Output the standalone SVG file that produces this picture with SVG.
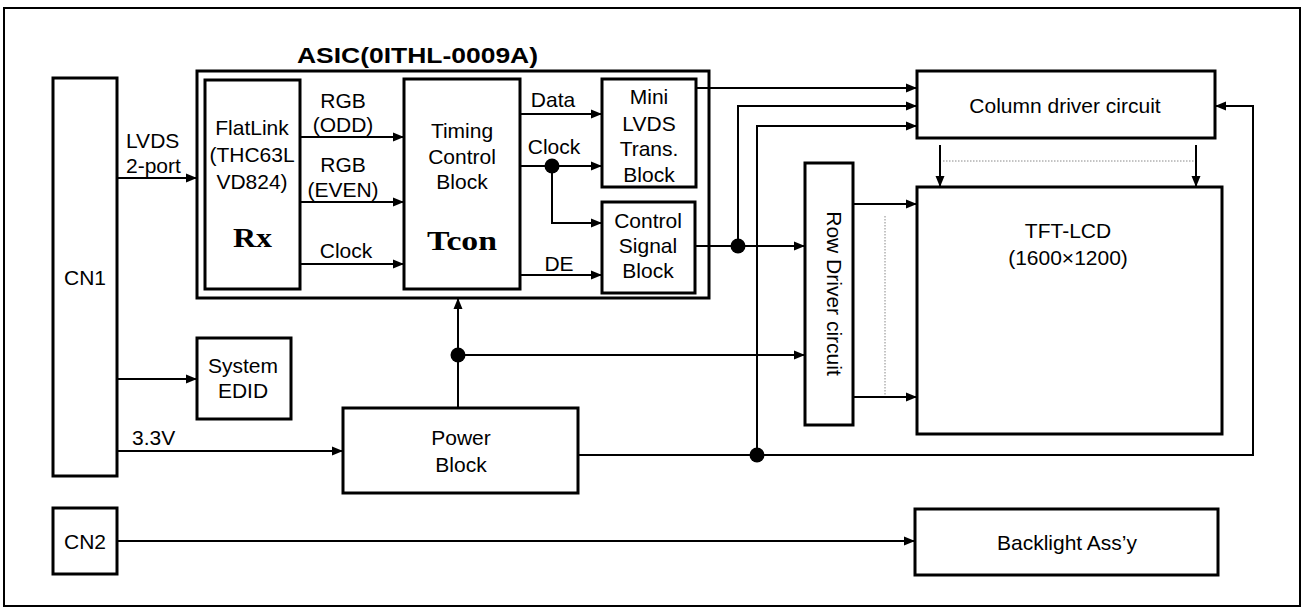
<svg xmlns="http://www.w3.org/2000/svg" width="1304" height="610" viewBox="0 0 1304 610">
<defs>
<marker id="ah" markerUnits="userSpaceOnUse" markerWidth="11" markerHeight="10" refX="11" refY="5" orient="auto">
<path d="M0,0.5 L11,5 L0,9.5 z" fill="#000"/>
</marker>
<style>
.box{fill:#fff;stroke:#000;stroke-width:3}
.frame{fill:none;stroke:#000;stroke-width:3}
.ln{fill:none;stroke:#000;stroke-width:2}
.arr{fill:none;stroke:#000;stroke-width:2;marker-end:url(#ah)}
.dot{fill:#000}
.dotted{fill:none;stroke:#888;stroke-width:1;stroke-dasharray:1.5,1.5}
text{font-family:"Liberation Sans",Arial,sans-serif;font-size:21px;fill:#000}
.c{text-anchor:middle}
.serif{font-family:"Liberation Serif","Times New Roman",serif;font-weight:bold;font-size:28px}
.title{font-weight:bold;font-size:22px}
</style>
</defs>
<rect x="4" y="8" width="1296" height="598" fill="#fff" stroke="#000" stroke-width="2"/>

<g id="cn1">
<rect class="box" x="53" y="78" width="64" height="398"/>
<text class="c" x="85" y="285">CN1</text>
</g>

<g id="asic">
<rect class="frame" x="197" y="71" width="512" height="227"/>
<text class="title" x="297" y="63" textLength="241" lengthAdjust="spacingAndGlyphs">ASIC(0ITHL-0009A)</text>
</g>

<g id="flatlink">
<rect class="box" x="205" y="80" width="95" height="209"/>
<text class="c" x="252" y="135">FlatLink</text>
<text class="c" x="252" y="162">(THC63L</text>
<text class="c" x="252" y="189">VD824)</text>
<text class="c serif" x="252.5" y="247" textLength="39" lengthAdjust="spacingAndGlyphs">Rx</text>
</g>

<g id="timing">
<rect class="box" x="404" y="79" width="116" height="210"/>
<text class="c" x="462" y="138">Timing</text>
<text class="c" x="462" y="164">Control</text>
<text class="c" x="462" y="189">Block</text>
<text class="c serif" x="462" y="250" textLength="70" lengthAdjust="spacingAndGlyphs">Tcon</text>
</g>

<g id="minilvds">
<rect class="box" x="602" y="79" width="94" height="108"/>
<text class="c" x="649" y="104">Mini</text>
<text class="c" x="649" y="131">LVDS</text>
<text class="c" x="649" y="156">Trans.</text>
<text class="c" x="649" y="182">Block</text>
</g>

<g id="controlsignal">
<rect class="box" x="602" y="202" width="93" height="91"/>
<text class="c" x="648" y="228">Control</text>
<text class="c" x="648" y="253">Signal</text>
<text class="c" x="648" y="278">Block</text>
</g>

<g id="edid">
<rect class="box" x="197" y="338" width="94" height="81"/>
<text class="c" x="243" y="373">System</text>
<text class="c" x="243" y="398">EDID</text>
</g>

<g id="power">
<rect class="box" x="343" y="408" width="235" height="85"/>
<text class="c" x="461" y="445">Power</text>
<text class="c" x="461" y="472">Block</text>
</g>

<g id="cn2">
<rect class="box" x="53" y="508" width="64" height="66"/>
<text class="c" x="85" y="549">CN2</text>
</g>

<g id="column">
<rect class="box" x="917" y="71" width="298" height="67"/>
<text class="c" x="1065" y="113">Column driver circuit</text>
</g>

<g id="row">
<rect class="box" x="805" y="163" width="48" height="262"/>
<text class="c" transform="translate(827,293.5) rotate(90)" x="0" y="0">Row Driver circuit</text>
</g>

<g id="tft">
<rect class="box" x="917" y="187" width="305" height="247"/>
<text class="c" x="1068" y="238">TFT-LCD</text>
<text class="c" x="1068" y="265">(1600×1200)</text>
</g>

<g id="backlight">
<rect class="box" x="915" y="509" width="303" height="66"/>
<text class="c" x="1067" y="550">Backlight Ass’y</text>
</g>

<g id="connectors">
<line class="arr" x1="117" y1="178" x2="197" y2="178"/>
<line class="arr" x1="300" y1="137" x2="404" y2="137"/>
<line class="arr" x1="300" y1="202" x2="404" y2="202"/>
<line class="arr" x1="300" y1="264" x2="404" y2="264"/>
<line class="arr" x1="520" y1="114" x2="602" y2="114"/>
<line class="arr" x1="520" y1="166" x2="602" y2="166"/>
<polyline class="arr" points="552,166 552,223 602,223"/>
<line class="arr" x1="520" y1="275" x2="602" y2="275"/>
<line class="arr" x1="696" y1="88" x2="917" y2="88"/>
<polyline class="arr" points="738,246 738,106 917,106"/>
<polyline class="arr" points="757,455 757,126 917,126"/>
<line class="arr" x1="695" y1="246" x2="805" y2="246"/>
<line class="arr" x1="458" y1="408" x2="458" y2="298"/>
<line class="arr" x1="458" y1="355" x2="805" y2="355"/>
<polyline class="arr" points="578,455 1253,455 1253,106 1215,106"/>
<line class="arr" x1="940" y1="145" x2="940" y2="187"/>
<line class="arr" x1="1196" y1="145" x2="1196" y2="187"/>
<line class="dotted" x1="943" y1="161" x2="1194" y2="161"/>
<line class="arr" x1="853" y1="204" x2="917" y2="204"/>
<line class="arr" x1="853" y1="397" x2="917" y2="397"/>
<line class="dotted" x1="885" y1="216" x2="885" y2="395"/>
<line class="arr" x1="117" y1="379" x2="197" y2="379"/>
<line class="arr" x1="117" y1="451" x2="343" y2="451"/>
<line class="arr" x1="117" y1="541" x2="915" y2="541"/>
<circle class="dot" cx="552" cy="166" r="7.5"/>
<circle class="dot" cx="738" cy="246" r="7.5"/>
<circle class="dot" cx="458" cy="355" r="7.5"/>
<circle class="dot" cx="757" cy="455" r="7.5"/>
<text x="126" y="148">LVDS</text>
<text x="126" y="173">2-port</text>
<text class="c" x="343" y="108">RGB</text>
<text class="c" x="343" y="132">(ODD)</text>
<text class="c" x="343" y="172">RGB</text>
<text class="c" x="343" y="197">(EVEN)</text>
<text class="c" x="346" y="258">Clock</text>
<text class="c" x="553" y="107">Data</text>
<text class="c" x="554" y="154">Clock</text>
<text class="c" x="559" y="271">DE</text>
<text x="132" y="445">3.3V</text>
</g>
</svg>
